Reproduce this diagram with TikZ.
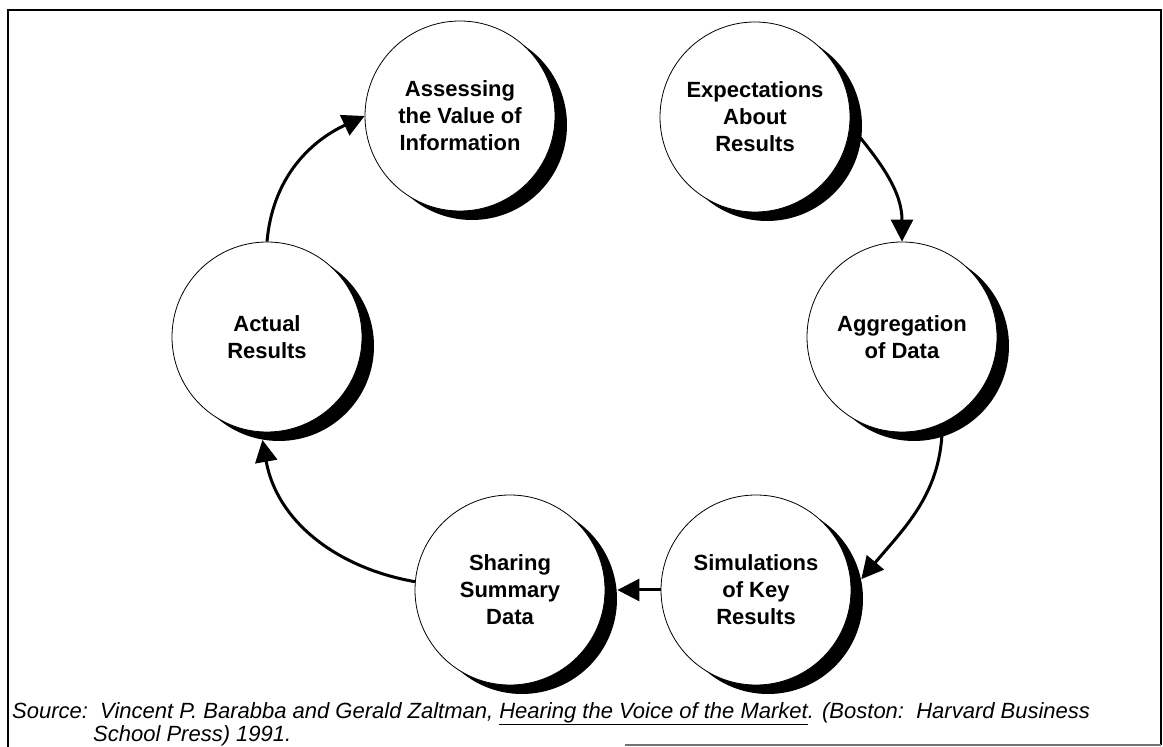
\documentclass[tikz,border=0pt]{standalone}
\usepackage{fontspec}
\setmainfont{Liberation Sans}
\usetikzlibrary{arrows.meta,shadows}

\begin{document}
\begin{tikzpicture}[x=1pt,y=1pt,
  stage/.style={circle,draw,line width=0.8pt,fill=white,minimum size=190pt,inner sep=0pt,
    align=center,font=\bfseries\fontsize{22}{27}\selectfont,
    general shadow={fill=black,shadow xshift=12pt,shadow yshift=-9pt}},
  flow/.style={line width=3pt,-{Triangle[length=22pt,width=22pt]}}]
\useasboundingbox (0,0) rectangle (1163,747);

%Frame
\draw[line width=2.5pt] (8,0) -- (8,737) -- (1161,737) -- (1161,2);
\draw[line width=1.2pt,black!55] (625,2) -- (1161,2);

%Shape: Circle
\node[stage] (assess) at (460,631) {Assessing\\the Value of\\Information};
%Shape: Circle
\node[stage] (expect) at (755,630) {Expectations\\About\\Results};
%Shape: Circle
\node[stage] (aggr) at (902,410) {Aggregation\\of Data};
%Shape: Circle
\node[stage] (simul) at (756,157) {Simulations\\of Key\\Results};
%Shape: Circle
\node[stage] (share) at (510,157) {Sharing\\Summary\\Data};
%Shape: Circle
\node[stage] (actual) at (267,410) {Actual\\Results};

%Curve Lines
\draw[flow] (expect.-5) to[out=-50,in=90] (aggr.north);
%Curve Lines
\draw[flow] (aggr.-65) to[out=-90,in=50] ([shift={(12pt,-9pt)}]simul.12);
%Straight Lines
\draw[flow] (simul.west) -- ([xshift=12pt]share.east);
%Curve Lines
\draw[flow] (share.175) to[out=170,in=-80] ([shift={(12pt,-9pt)}]actual.-100);
%Curve Lines
\draw[flow] (actual.north) to[out=85,in=205] (assess.west);

% Text Node
\node[anchor=north west,inner sep=0pt,align=left,font=\itshape\fontsize{22}{22}\selectfont] (source) at (12,45)
  {Source:\ \ Vincent P. Barabba and Gerald Zaltman, \underline{Hearing the Voice of the Market}. (Boston:\ \ Harvard Business\\
   \hspace*{81pt}School Press) 1991.};

\end{tikzpicture}
\end{document}
